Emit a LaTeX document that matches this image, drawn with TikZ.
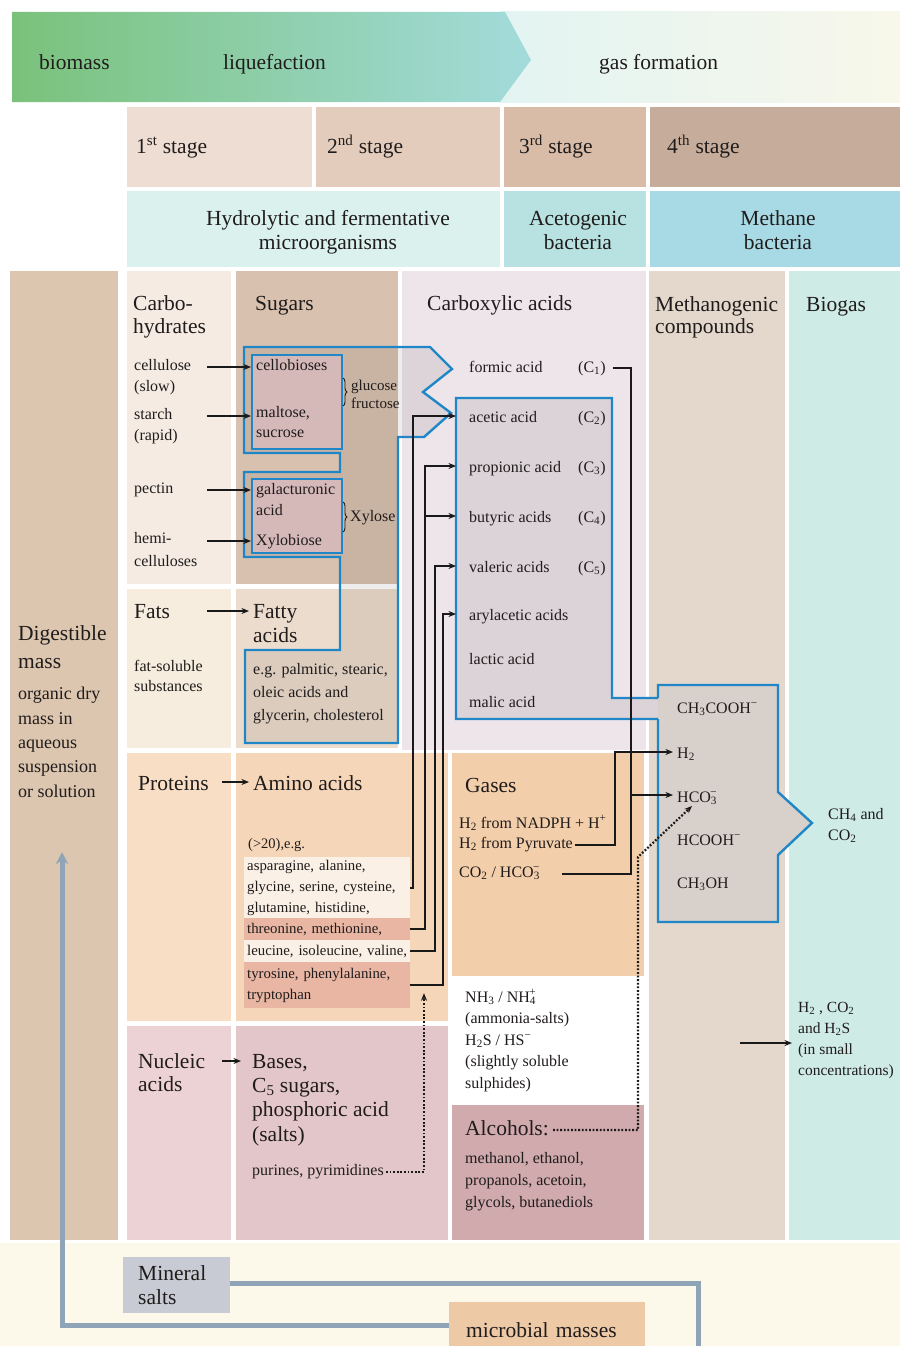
\documentclass[tikz,border=0pt]{standalone}
\usepackage{fontspec}
\setmainfont{Liberation Serif}
\usetikzlibrary{arrows.meta,calc,decorations.pathreplacing}
\newcommand{\chemion}[2]{\textsubscript{#1}\llap{\textsuperscript{#2}}}
\definecolor{ink}{HTML}{201C1C}
\definecolor{bgreen}{HTML}{7AC27B}\definecolor{bcyan}{HTML}{A3DBDB}
\definecolor{gasl}{HTML}{E2F4F2}\definecolor{gasr}{HTML}{F8F7EA}
\definecolor{st1}{HTML}{EDDDD3}\definecolor{st2}{HTML}{E3CCBC}\definecolor{st3}{HTML}{D8BCA7}\definecolor{st4}{HTML}{C6AC9A}
\definecolor{mic1}{HTML}{DAF1EE}\definecolor{mic2}{HTML}{B7E2E1}\definecolor{mic3}{HTML}{A8DAE5}
\definecolor{digc}{HTML}{DCC6AF}\definecolor{carbc}{HTML}{F5EBE3}\definecolor{sugc}{HTML}{D9C1AF}
\definecolor{cbxc}{HTML}{EEE5EA}\definecolor{methc}{HTML}{E3D8CB}\definecolor{biogc}{HTML}{CEEBE6}
\definecolor{fatc}{HTML}{F6EDDE}\definecolor{fattyc}{HTML}{ECDCCD}
\definecolor{protc}{HTML}{F8DEC5}\definecolor{aminoc}{HTML}{F5D6B8}\definecolor{gasc}{HTML}{F3CEAA}
\definecolor{nuclc}{HTML}{ECD1D5}\definecolor{basec}{HTML}{E3C6CA}\definecolor{alcc}{HTML}{D0AAAC}
\definecolor{botc}{HTML}{FCF9EA}\definecolor{minc}{HTML}{C8CBD4}\definecolor{micc}{HTML}{EDC9A6}
\definecolor{bandl}{HTML}{FAF0E5}\definecolor{bandd}{HTML}{E8B6A3}\definecolor{inboxc}{HTML}{D5B8B8}
\definecolor{carbfill}{HTML}{DBD3D7}\definecolor{methfill}{HTML}{D8D0CA}
\definecolor{oblue}{HTML}{1F87C7}\definecolor{loopc}{HTML}{8FA4B7}
\tikzset{>={Stealth[length=7.5pt,width=6pt]},every node/.style={inner sep=0pt,text=ink},
big/.style={font=\fontsize{21.5}{#1}\selectfont,anchor=base west,align=left},big/.default=24,
sm/.style={font=\fontsize{16}{#1}\selectfont,anchor=base west,align=left},sm/.default=21.5,
band/.style={anchor=north west,text width=160pt,inner xsep=3pt,inner ysep=0pt,align=left,font=\fontsize{14.8}{21}\selectfont},
inb/.style={draw=oblue,line width=2pt,fill=inboxc,anchor=north west},
ln/.style={line width=1.7pt,black!90},arr/.style={ln,->},
dots/.style={line width=2.2pt,black!90,dash pattern=on 1.8pt off 1.8pt},
blu/.style={draw=oblue,line width=2.4pt},loopln/.style={draw=loopc,line width=5pt},
brc/.style={ink,line width=.9pt,decorate,decoration={brace,amplitude=4pt}}}
\begin{document}
\begin{tikzpicture}[x=1pt,y=-1pt]
\useasboundingbox (0,0) rectangle (900,1346);
\fill[botc] (0,1243) rectangle (900,1346);
\shade[left color=gasl,right color=gasr] (500,12) rectangle (900,102);
\shade[left color=bgreen,right color=bcyan] (12,12) -- (505,12) -- (531,60) -- (500,102) -- (12,102) -- cycle;
\fill[st1] (127,107) rectangle (312,187);\fill[st2] (316,107) rectangle (500,187);
\fill[st3] (504,107) rectangle (646,187);\fill[st4] (650,107) rectangle (900,187);
\fill[mic1] (127,191) rectangle (500,267);\fill[mic2] (504,191) rectangle (646,267);\fill[mic3] (650,191) rectangle (900,267);
\fill[digc] (10,271) rectangle (118,1240);
\fill[carbc] (127,271) rectangle (231,584);\fill[sugc] (236,271) rectangle (398,584);
\fill[cbxc] (402,271) rectangle (646,750);
\fill[methc] (649,271) rectangle (785,1240);\fill[biogc] (789,271) rectangle (900,1240);
\fill[fatc] (127,589) rectangle (231,748);\fill[fattyc] (236,589) rectangle (398,748);
\fill[protc] (127,753) rectangle (231,1021);\fill[aminoc] (236,753) rectangle (448,1021);
\fill[gasc] (452,753) rectangle (644,976);\fill[alcc] (452,1105) rectangle (644,1240);
\fill[nuclc] (127,1026) rectangle (231,1240);\fill[basec] (236,1026) rectangle (448,1240);
\draw[blu,fill=black,fill opacity=.07] (244,347) -- (430,347) -- (452,369) -- (423,392) -- (451,413) -- (424,437) -- (398,437) -- (398,743) -- (245,743) -- (245,650) -- (340,650) -- (340,557) -- (244,557) -- (244,472) -- (340,472) -- (340,453) -- (244,453) -- cycle;
\node[inb,minimum width=90pt,minimum height=94pt] (box1) at (251,354) {};
\node[inb,minimum width=90pt,minimum height=74pt] (box2) at (251,478) {};
\draw[blu,fill=carbfill] (456,398) -- (612,398) -- (612,698) -- (658,698) -- (671,708) -- (658,719) -- (456,719) -- cycle;
\fill[methfill] (658,685) -- (778,685) -- (778,792) -- (812,823) -- (778,855) -- (778,922) -- (658,922) -- cycle;
\draw[blu] (658,698) -- (658,685) -- (778,685) -- (778,792) -- (812,823) -- (778,855) -- (778,922) -- (658,922) -- (658,719);
\draw[brc] (343,378) -- (343,406);
\draw[brc] (343,502) -- (343,532);

\node[big] (biomass) at (39,70) {biomass};
\node[big] (liquef) at (223,70) {liquefaction};
\node[big] (gasform) at (599,70) {gas formation};
\node[big] (stage1) at (136,153) {1\textsuperscript{st} stage};
\node[big] (stage2) at (327,153) {2\textsuperscript{nd} stage};
\node[big] (stage3) at (519,153) {3\textsuperscript{rd} stage};
\node[big] (stage4) at (667,153) {4\textsuperscript{th} stage};
\node[big,anchor=base,align=center] (hydro) at (328,249) {Hydrolytic and fermentative\\microorganisms};
\node[big,anchor=base,align=center] (aceto) at (578,249) {Acetogenic\\bacteria};
\node[big,anchor=base,align=center] (methb) at (778,249) {Methane\\bacteria};

\node[big=23] (carbo) at (133,333) {Carbo-\\hydrates};
\node[big] (sugars) at (255,310) {Sugars};
\node[big] (carbac) at (427,310) {Carboxylic acids};
\node[big=22] (methco) at (655,333) {Methanogenic\\compounds};
\node[big] (biogas) at (806,311) {Biogas};
\node[sm=21] (cellu) at (134,391) {cellulose\\(slow)};
\node[sm=21] (starch) at (134,440) {starch\\(rapid)};
\node[sm] (pectin) at (134,493) {pectin};
\node[sm=23] (hemi) at (134,566) {hemi-\\celluloses};
\node[sm] (cello) at (256,370) {cellobioses};
\node[sm=20] (malto) at (256,437) {maltose,\\sucrose};
\node[sm=21] (galac) at (256,515) {galacturonic\\acid};
\node[sm] (xylob) at (256,545) {Xylobiose};
\node[sm,font=\fontsize{15}{18}\selectfont] (gluc) at (351,408) {glucose\\fructose};
\node[sm] (xylose) at (350,521) {Xylose};

\node[sm] (formic) at (469,372) {formic acid};
\node[sm] (c1) at (578,372) {(C\textsubscript{1})};
\node[sm] (acetic) at (469,422) {acetic acid};
\node[sm] (c2) at (578,422) {(C\textsubscript{2})};
\node[sm] (propio) at (469,472) {propionic acid};
\node[sm] (c3) at (578,472) {(C\textsubscript{3})};
\node[sm] (butyr) at (469,522) {butyric acids};
\node[sm] (c4) at (578,522) {(C\textsubscript{4})};
\node[sm] (valer) at (469,572) {valeric acids};
\node[sm] (c5) at (578,572) {(C\textsubscript{5})};
\node[sm] (arylac) at (469,620) {arylacetic acids};
\node[sm] (lactic) at (469,664) {lactic acid};
\node[sm] (malic) at (469,707) {malic acid};

\node[big=28] (digest) at (18,668) {Digestible\\mass};
\node[font=\fontsize{18}{24.3}\selectfont,anchor=base west,align=left] (orgdry) at (18,797) {organic dry\\mass in\\aqueous\\suspension\\or solution};
\node[big] (fats) at (134,618) {Fats};
\node[big] (fattyac) at (253,642) {Fatty\\acids};
\node[sm=19.5] (fatsol) at (134,691) {fat-soluble\\substances};
\node[sm=23] (palm) at (253,720) {e.g. palmitic, stearic,\\oleic acids and\\glycerin, cholesterol};

\node[big] (prot) at (138,790) {Proteins};
\node[big] (aminoac) at (253,790) {Amino acids};
\node[sm,font=\fontsize{14.5}{20}\selectfont] (gt20) at (248,848) {(>20),e.g.};
\node[band,fill=bandl,minimum height=61pt] (amA) at (244,857) {asparagine, alanine,\\glycine, serine, cysteine,\\glutamine, histidine,};
\node[band,fill=bandd,minimum height=22pt] (amB) at (244,918) {threonine, methionine,};
\node[band,fill=bandl,minimum height=22pt] (amC) at (244,940) {leucine, isoleucine, valine,};
\node[band,fill=bandd,minimum height=46pt] (amD) at (244,962) {tyrosine, phenylalanine,\\tryptophan};

\node[big] (gases) at (465,792) {Gases};
\node[sm] (nadph) at (459,828) {H\textsubscript{2} from NADPH + H\textsuperscript{+}};
\node[sm] (pyruv) at (459,848) {H\textsubscript{2} from Pyruvate};
\node[sm] (co2hco) at (459,877) {CO\textsubscript{2} / HCO\chemion{3}{−}};
\node[sm] (nh3) at (465,1088) {NH\textsubscript{3} / NH\chemion{4}{+}\\(ammonia-salts)\\H\textsubscript{2}S / HS\textsuperscript{−}\\(slightly soluble\\sulphides)};
\node[big] (alco) at (465,1135) {Alcohols:};
\node[sm=22] (alcs) at (465,1207) {methanol, ethanol,\\propanols, acetoin,\\glycols, butanediols};
\node[big=23.5] (nucl) at (138,1091.5) {Nucleic\\acids};
\node[big=24.3] (bases) at (252,1141) {Bases,\\C\textsubscript{5} sugars,\\phosphoric acid\\(salts)};
\node[sm] (purin) at (252,1175) {purines, pyrimidines};

\node[sm] (ch3cooh) at (677,713) {CH\textsubscript{3}COOH\textsuperscript{−}};
\node[sm] (h2m) at (677,758) {H\textsubscript{2}};
\node[sm] (hco3m) at (677,802) {HCO\chemion{3}{−}};
\node[sm] (hcooh) at (677,845) {HCOOH\textsuperscript{−}};
\node[sm] (ch3oh) at (677,888) {CH\textsubscript{3}OH};
\node[sm=21] (ch4) at (828,840) {CH\textsubscript{4} and\\CO\textsubscript{2}};
\node[sm=21,font=\fontsize{15.5}{21}\selectfont] (h2co2) at (798,1075) {H\textsubscript{2} , CO\textsubscript{2}\\and H\textsubscript{2}S\\(in small\\concentrations)};

\coordinate (tailc) at (207,0);\coordinate (tailp) at (222,0);
\coordinate (heads) at (249,0);\coordinate (headb) at (241,0);
\coordinate (cbx) at (456,0);
\coordinate (v1) at (413,0);\coordinate (v2) at (425,0);\coordinate (v3) at (435,0);\coordinate (v4) at (443,0);
\coordinate (vf) at (631,0);\coordinate (vh) at (615,0);\coordinate (vd) at (424,0);
\coordinate (co2t) at (562,874);\coordinate (pyrt) at (575,845);
\coordinate (kink) at (638,857);\coordinate (h2st) at (740,1043);
\coordinate (lp) at (62,852);\coordinate (mc) at (698,1350);

\node[big,fill=micc,anchor=north west,minimum width=196pt,minimum height=56pt,text width=162pt,inner xsep=17pt] (micro) at (449,1302) {microbial masses};
\node[big,fill=minc,anchor=north west,minimum width=107pt,minimum height=56pt,text width=77pt,inner xsep=15pt] (minbox) at (123,1257) {Mineral\\salts};
\draw[loopln,-{Stealth[length=12pt,width=12pt]}] ([yshift=5pt]micro.west) -| (lp);
\draw[loopln] ([yshift=2pt]minbox.east) -| (mc);

\coordinate (rcel) at ($(cellu.base)+(0,-24)$);\coordinate (rsta) at ($(starch.base)+(0,-24)$);
\coordinate (rpec) at ($(pectin.base)+(0,-3)$);\coordinate (rhem) at ($(hemi.base)+(0,-25)$);
\draw[arr] (rcel -| tailc) -- (rcel -| box1.west);
\draw[arr] (rsta -| tailc) -- (rsta -| box1.west);
\draw[arr] (rpec -| tailc) -- (rpec -| box2.west);
\draw[arr] (rhem -| tailc) -- (rhem -| box2.west);
\coordinate (rfat) at ($(fats.base)+(0,-7)$);\coordinate (rpro) at ($(prot.base)+(0,-8)$);\coordinate (rnuc) at ($(nucl.base)+(0,-30.5)$);
\draw[arr] (rfat -| tailc) -- (rfat -| heads);
\draw[arr] (rpro -| tailp) -- (rpro -| heads);
\draw[arr] (rnuc -| tailp) -- (rnuc -| headb);

\coordinate (racet) at ($(acetic.base)+(0,-6)$);\coordinate (rprop) at ($(propio.base)+(0,-6)$);
\coordinate (rbuty) at ($(butyr.base)+(0,-6)$);\coordinate (rvale) at ($(valer.base)+(0,-6)$);
\coordinate (raryl) at ($(arylac.base)+(0,-6)$);
\draw[arr] (amA.east) -| (racet -| v1) -- (racet -| cbx);
\draw[arr] (amB.east) -| (rprop -| v2) -- (rprop -| cbx);
\draw[arr] (rbuty -| v2) -- (rbuty -| cbx);
\draw[arr] (amC.east) -| (rvale -| v3) -- (rvale -| cbx);
\draw[arr] (amD.east) -| (raryl -| v4) -- (raryl -| cbx);

\coordinate (rhco) at ($(hco3m.base west)+(-4,-7)$);\coordinate (rh2) at ($(h2m.base west)+(-4,-6)$);
\draw[arr] ($(c1.base east)+(7,-4)$) -| (rhco -| vf) -- (rhco);
\draw[ln] (co2t) -| (rhco -| vf);
\draw[arr] (pyrt) -| (rh2 -| vh) -- (rh2);
\draw[dots,->] ($(purin.base east)+(2,-3)$) -| ($(amD.east -| vd)+(0,8)$);
\draw[dots,->] ($(alco.base east)+(4,-5)$) -| (kink) -- ($(hco3m.base west)+(15,4)$);
\draw[arr] (h2st) -- ($(h2co2.west)+(-6,3)$);
\end{tikzpicture}
\end{document}
